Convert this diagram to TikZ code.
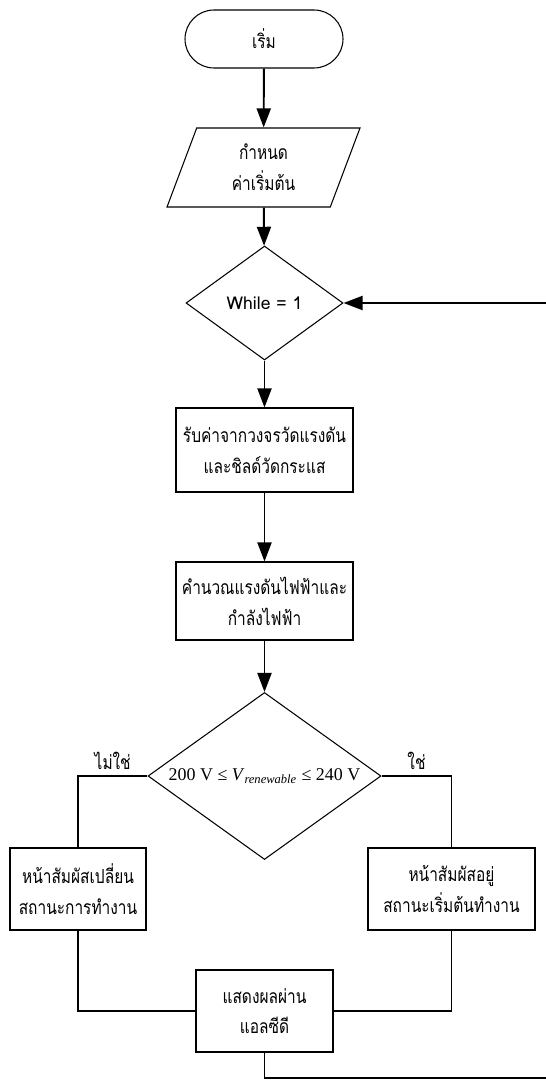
\documentclass[tikz,border=0pt]{standalone}
\usepackage{fontspec}
\setmainfont[Script=Thai, FakeStretch=0.8]{Loma}
\newfontfamily\latinfont[Script=Thai]{Loma}
\newfontfamily\timesfont{Liberation Serif}
\usetikzlibrary{shapes, arrows.meta, positioning}

\begin{document}
\begin{tikzpicture}[
    box/.style={draw, line width=0.6pt, align=center, minimum width=3.54cm},
    decision/.style={draw, line width=0.6pt, diamond, aspect=1.4, inner sep=0pt, align=center},
    flow/.style={-{Triangle[length=0.38cm, width=0.28cm]}, line width=1.1pt},
    plain/.style={line width=1.1pt},
    font=\fontsize{11}{17.5}\selectfont
]
    \path[use as bounding box, clip] (0,0) rectangle (10.92,-21.72);

    \node[draw, line width=0.6pt, rounded corners=0.58cm, minimum width=3.16cm,
          minimum height=1.16cm] (start) at (5.28,-0.78) {เริ่ม};
    \node[draw, line width=0.6pt, trapezium, trapezium left angle=63,
          trapezium right angle=117, trapezium stretches body,
          minimum width=3.86cm, minimum height=1.58cm, align=center]
          (init) at (5.27,-3.35) {กำหนด\\ค่าเริ่มต้น};
    \node[decision, minimum width=3.14cm, minimum height=2.28cm,
          font=\latinfont\fontsize{10}{12}\selectfont]
          (loop) at (5.29,-6.06) {While = 1};
    \node[box, minimum height=1.68cm] (read) at (5.29,-9.0)
          {รับค่าจากวงจรวัดแรงดัน\\และชิลด์วัดกระแส};
    \node[box, minimum height=1.56cm] (calc) at (5.29,-12.02)
          {คำนวณแรงดันไฟฟ้าและ\\กำลังไฟฟ้า};
    \node[decision, minimum width=4.66cm, minimum height=3.34cm,
          font=\timesfont\fontsize{10.2}{12}\selectfont]
          (check) at (5.29,-15.52)
          {200 V ≤ \textit{V}\textsubscript{\textit{renewable}} ≤ 240 V};
    \node[box, minimum width=2.72cm, minimum height=1.64cm] (change)
          at (1.56,-17.78) {หน้าสัมผัสเปลี่ยน\\สถานะการทำงาน};
    \node[box, minimum width=3.34cm, minimum height=1.64cm] (stay)
          at (9.03,-17.78) {หน้าสัมผัสอยู่\\สถานะเริ่มต้นทำงาน};
    \node[box, minimum width=2.74cm, minimum height=1.64cm] (show)
          at (5.29,-20.22) {แสดงผลผ่าน\\แอลซีดี};

    \draw[flow] (start) -- (init);
    \draw[flow] (init) -- (loop);
    \draw[flow] (loop) -- (read);
    \draw[flow] (read) -- (calc);
    \draw[flow] (calc) -- (check);
    \draw[plain] (check.west) -- node[above]{ไม่ใช่}
                 (change.north |- check.west) -- (change.north);
    \draw[plain] (check.east) -- node[above]{ใช่}
                 (stay.north |- check.east) -- (stay.north);
    \draw[plain] (change.south) |- (show.west);
    \draw[plain] (stay.south) |- (show.east);
    % back to the loop test, runs out past the right edge
    \coordinate (turn) at (11.2,-21.56);
    \draw[flow] (show.south) |- (turn) |- (loop.east);
\end{tikzpicture}
\end{document}
